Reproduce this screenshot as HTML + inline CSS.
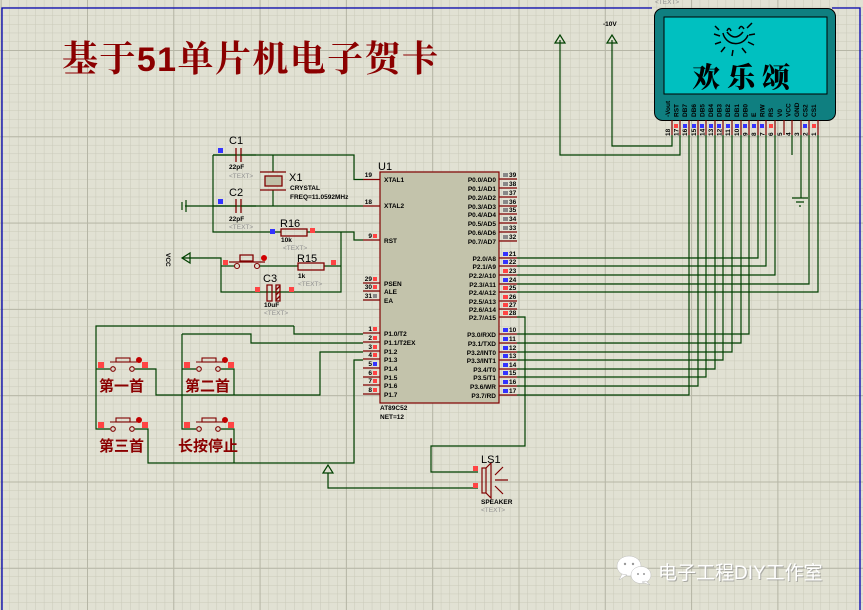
<!DOCTYPE html>
<html><head><meta charset="utf-8"><style>
html,body{margin:0;padding:0;background:#e1e1d3;}
svg{display:block;}
.s{font-family:"Liberation Sans",sans-serif;font-weight:bold;font-size:6.5px;fill:#000;}
.n{font-family:"Liberation Sans",sans-serif;font-weight:bold;font-size:6.5px;fill:#000;}
.g{font-family:"Liberation Sans",sans-serif;font-size:6.5px;fill:#909090;}
.l{font-family:"Liberation Sans",sans-serif;font-size:11px;fill:#000;}
.cn{font-family:"Liberation Sans","Noto Sans CJK SC",sans-serif;font-weight:bold;font-size:15px;fill:#8b0000;}
</style></head><body>
<svg width="863" height="610" viewBox="0 0 863 610" xmlns="http://www.w3.org/2000/svg">
<defs>
<pattern id="mi" x="0.7" y="6.85" width="8.63" height="8.63" patternUnits="userSpaceOnUse">
<path d="M0 0H8.63M0 0V8.63" stroke="#c9c9b9" stroke-width="1" fill="none"/></pattern>
<pattern id="ma" x="0.7" y="50" width="86.3" height="86.3" patternUnits="userSpaceOnUse">
<path d="M0 0H86.3M0 0V86.3" stroke="#b6b6a6" stroke-width="2" fill="none"/></pattern>
</defs>
<rect width="863" height="610" fill="#e1e1d3"/>
<rect width="863" height="610" fill="url(#mi)"/>
<rect width="863" height="610" fill="url(#ma)"/>
<path d="M2 610V8H652M832 8H860V610" stroke="#0000b0" stroke-width="1.3" fill="none"/>
<text x="655" y="4" class="g">&lt;TEXT&gt;</text>

<text x="62" y="71" font-family="'Liberation Serif','Noto Serif CJK SC',serif" font-weight="bold" font-size="36" fill="#8b0000" textLength="376" lengthAdjust="spacing">基于<tspan font-family="'Liberation Sans',sans-serif" font-size="34">51</tspan>单片机电子贺卡</text>

<g stroke="#004000" stroke-width="1.2" fill="none">
<path d="M213 155H354V179.5H363"/>
<path d="M185 206H363"/>
<path d="M213 155V232H281"/>
<path d="M307 232H354V240H363"/>
<path d="M341 232V292H221V258H182"/>
<path d="M221 266H234"/>
<path d="M260 266H298M324 266H341"/>
<path d="M273 155V172M273 190V206"/>
<path d="M294 326H96V429H110"/>
<path d="M96 369H110"/>
<path d="M294 326V334H363"/>
<path d="M182 334H251V343H363"/>
<path d="M182 334V429H196M182 369H196"/>
<path d="M135 369H156V395H320V352H363"/>
<path d="M221 369H234V395"/>
<path d="M135 429H148V463H354V360H363"/>
<path d="M221 429H234V463"/>
<path d="M517 317H525V446H431V472H478"/>
<path d="M478 488H328V473"/>
<path d="M517 258H758V135M517 266H766V135M517 275H775V135M517 284H809V135M517 292H818V135"/>
<path d="M517 334H749V135M517 343H741V135M517 352H732V135M517 360H723V135M517 369H715V135M517 377H706V135M517 386H698V135M517 395H689V135"/>
<path d="M672 135V146H612V40"/>
<path d="M680 135V155H560V40"/>
<path d="M792 135V155"/>
<path d="M801 135V198"/>
<path d="M792 198H808M796 202H804M799 206H801"/>
<path d="M186 200V212M182 202V210"/>
</g>
<g stroke="#004000" stroke-width="1.2" fill="none">
<path d="M555 43L560 35L565 43Z"/>
<path d="M607 43L612 35L617 43Z"/>
<path d="M323 473L328 465L333 473Z"/>
<path d="M182 258L190 253V263Z"/>
</g>
<text x="603" y="26" class="s">-10V</text>
<text transform="translate(166,253) rotate(90)" class="s">VCC</text>

<g stroke="#800000" stroke-width="1.3" fill="none">
<path d="M236 148V162M241 148V162M236 199V213M241 199V213"/>
<path d="M213 155H236M241 155H256M213 206H236M241 206H256" stroke="#004000"/>
<rect x="265" y="176" width="17" height="10" fill="#c0c0a8"/>
<path d="M260 172H286M260 190H286"/>
<rect x="281" y="229" width="26" height="7"/>
<rect x="298" y="263" width="26" height="7"/>
<path d="M267 285H272V301H267Z"/>
<path d="M276 285H280V301H276Z"/>
<path d="M276 290L280 286M276 295L280 291M276 300L280 296"/>
<path d="M240 255H253V261H240Z M229 262H265"/>
</g>
<g fill="none" stroke="#800000" stroke-width="1.1">
<circle cx="237" cy="266" r="2.5"/><circle cx="257" cy="266" r="2.5"/>
<path d="M256 292H267M280 292H290" stroke="#004000"/>
</g>
<circle cx="264" cy="258" r="3" fill="#d00000"/>
<g fill="#3333ff"><rect x="218" y="148" width="5" height="5"/><rect x="218" y="199" width="5" height="5"/><rect x="270" y="229" width="5" height="5"/></g>
<g fill="#ff4444"><rect x="223" y="260" width="5" height="5"/><rect x="331" y="260" width="5" height="5"/><rect x="310" y="228" width="5" height="5"/><rect x="255" y="287" width="5" height="5"/><rect x="289" y="287" width="5" height="5"/></g>
<text x="229" y="144" class="l">C1</text>
<text x="229" y="196" class="l">C2</text>
<text x="229" y="169" class="s" font-size="6">22pF</text>
<text x="229" y="178" class="g">&lt;TEXT&gt;</text>
<text x="229" y="221" class="s" font-size="6">22pF</text>
<text x="229" y="229" class="g">&lt;TEXT&gt;</text>
<text x="289" y="181" class="l">X1</text>
<text x="290" y="190" class="s" font-size="6">CRYSTAL</text>
<text x="290" y="199" class="s" font-size="6">FREQ=11.0592MHz</text>
<text x="280" y="227" class="l">R16</text>
<text x="281" y="242" class="s" font-size="6">10k</text>
<text x="283" y="250" class="g">&lt;TEXT&gt;</text>
<text x="297" y="262" class="l">R15</text>
<text x="298" y="278" class="s" font-size="6">1k</text>
<text x="298" y="286" class="g">&lt;TEXT&gt;</text>
<text x="263" y="282" class="l">C3</text>
<text x="264" y="307" class="s" font-size="6">10uF</text>
<text x="264" y="315" class="g">&lt;TEXT&gt;</text>

<g id="pb">
<g fill="none" stroke="#800000" stroke-width="1.1">
<circle cx="113" cy="369" r="2.3"/><circle cx="132" cy="369" r="2.3"/>
<rect x="116" y="358" width="14" height="4"/><path d="M110 362H137"/>
</g>
<circle cx="139" cy="360" r="3" fill="#c00000"/>
<rect x="98" y="362" width="6" height="6" fill="#ff4444"/><rect x="142" y="362" width="6" height="6" fill="#ff4444"/>
</g>
<use href="#pb" x="86"/>
<use href="#pb" y="60"/>
<use href="#pb" x="86" y="60"/>
<text x="99" y="391" class="cn">第一首</text>
<text x="185" y="391" class="cn">第二首</text>
<text x="99" y="451" class="cn">第三首</text>
<text x="178" y="451" class="cn">长按停止</text>

<text x="378" y="170" class="l">U1</text>
<rect x="380" y="172" width="119" height="231" fill="#c3c3ab" stroke="#800000" stroke-width="1.2"/>
<g stroke="#800000" stroke-width="1.2">
<path d="M363 179.5H380M363 206H380M363 240H380M363 283H380M363 291H380M363 300H380M363 333H380M363 342H380M363 351H380M363 359H380M363 368H380M363 377H380M363 385H380M363 394H380"/>
<path d="M499 179H517M499 188H517M499 197H517M499 206H517M499 214H517M499 223H517M499 232H517M499 241H517M499 258H517M499 266H517M499 275H517M499 284H517M499 292H517M499 301H517M499 309H517M499 317H517M499 334H517M499 343H517M499 352H517M499 360H517M499 369H517M499 377H517M499 386H517M499 395H517"/>
</g>
<g class="s">
<text x="384" y="182">XTAL1</text><text x="384" y="208">XTAL2</text><text x="384" y="243">RST</text>
<text x="384" y="286">PSEN</text><text x="384" y="294">ALE</text><text x="384" y="303">EA</text>
<text x="384" y="336">P1.0/T2</text><text x="384" y="345">P1.1/T2EX</text><text x="384" y="354">P1.2</text><text x="384" y="362">P1.3</text>
<text x="384" y="371">P1.4</text><text x="384" y="380">P1.5</text><text x="384" y="388">P1.6</text><text x="384" y="397">P1.7</text>
</g>
<g class="s" text-anchor="end">
<text x="496" y="182">P0.0/AD0</text><text x="496" y="191">P0.1/AD1</text><text x="496" y="200">P0.2/AD2</text><text x="496" y="209">P0.3/AD3</text>
<text x="496" y="217">P0.4/AD4</text><text x="496" y="226">P0.5/AD5</text><text x="496" y="235">P0.6/AD6</text><text x="496" y="244">P0.7/AD7</text>
<text x="496" y="261">P2.0/A8</text><text x="496" y="269">P2.1/A9</text><text x="496" y="278">P2.2/A10</text><text x="496" y="287">P2.3/A11</text>
<text x="496" y="295">P2.4/A12</text><text x="496" y="304">P2.5/A13</text><text x="496" y="312">P2.6/A14</text><text x="496" y="320">P2.7/A15</text>
<text x="496" y="337">P3.0/RXD</text><text x="496" y="346">P3.1/TXD</text><text x="496" y="355">P3.2/INT0</text><text x="496" y="363">P3.3/INT1</text>
<text x="496" y="372">P3.4/T0</text><text x="496" y="380">P3.5/T1</text><text x="496" y="389">P3.6/WR</text><text x="496" y="398">P3.7/RD</text>
</g>
<g class="n" text-anchor="end">
<text x="372" y="177">19</text><text x="372" y="204">18</text><text x="372" y="238">9</text><text x="372" y="281">29</text><text x="372" y="289">30</text><text x="372" y="298">31</text>
<text x="372" y="331">1</text><text x="372" y="340">2</text><text x="372" y="349">3</text><text x="372" y="357">4</text><text x="372" y="366">5</text><text x="372" y="375">6</text><text x="372" y="383">7</text><text x="372" y="392">8</text>
</g>
<g fill="#ff4444"><rect x="373" y="234" width="4" height="4"/><rect x="373" y="277" width="4" height="4"/><rect x="373" y="285" width="4" height="4"/>
<rect x="373" y="327" width="4" height="4"/><rect x="373" y="336" width="4" height="4"/><rect x="373" y="345" width="4" height="4"/><rect x="373" y="353" width="4" height="4"/><rect x="373" y="371" width="4" height="4"/><rect x="373" y="379" width="4" height="4"/><rect x="373" y="388" width="4" height="4"/></g>
<rect x="373" y="362" width="4" height="4" fill="#3333ff"/><rect x="373" y="294" width="4" height="4" fill="#888"/>
<g fill="#888"><rect x="503" y="173" width="5" height="4"/><rect x="503" y="182" width="5" height="4"/><rect x="503" y="191" width="5" height="4"/><rect x="503" y="200" width="5" height="4"/><rect x="503" y="208" width="5" height="4"/><rect x="503" y="217" width="5" height="4"/><rect x="503" y="226" width="5" height="4"/><rect x="503" y="235" width="5" height="4"/></g>
<g fill="#3333ff"><rect x="503" y="252" width="5" height="4"/><rect x="503" y="260" width="5" height="4"/><rect x="503" y="278" width="5" height="4"/>
<rect x="503" y="328" width="5" height="4"/><rect x="503" y="337" width="5" height="4"/><rect x="503" y="346" width="5" height="4"/><rect x="503" y="354" width="5" height="4"/><rect x="503" y="363" width="5" height="4"/><rect x="503" y="371" width="5" height="4"/><rect x="503" y="380" width="5" height="4"/><rect x="503" y="389" width="5" height="4"/></g>
<g fill="#ff4444"><rect x="503" y="269" width="5" height="4"/><rect x="503" y="286" width="5" height="4"/><rect x="503" y="295" width="5" height="4"/><rect x="503" y="303" width="5" height="4"/><rect x="503" y="311" width="5" height="4"/></g>
<g class="n">
<text x="509" y="177">39</text><text x="509" y="186">38</text><text x="509" y="195">37</text><text x="509" y="204">36</text><text x="509" y="212">35</text><text x="509" y="221">34</text><text x="509" y="230">33</text><text x="509" y="239">32</text>
<text x="509" y="256">21</text><text x="509" y="264">22</text><text x="509" y="273">23</text><text x="509" y="282">24</text><text x="509" y="290">25</text><text x="509" y="299">26</text><text x="509" y="307">27</text><text x="509" y="315">28</text>
<text x="509" y="332">10</text><text x="509" y="341">11</text><text x="509" y="350">12</text><text x="509" y="358">13</text><text x="509" y="367">14</text><text x="509" y="375">15</text><text x="509" y="384">16</text><text x="509" y="393">17</text>
</g>
<text x="380" y="410" class="s">AT89C52</text>
<text x="380" y="419" class="s">NET=12</text>

<rect x="473" y="466" width="5" height="5" fill="#ff4444"/><rect x="473" y="483" width="5" height="5" fill="#ff4444"/>
<g stroke="#800000" stroke-width="1.2" fill="none">
<rect x="482" y="468" width="4" height="25"/>
<path d="M486 468L491 463V498L486 493"/>
<path d="M495 475L503 467M495 480H508M495 486L503 494"/>
</g>
<text x="481" y="463" class="l">LS1</text>
<text x="481" y="504" class="s">SPEAKER</text>
<text x="481" y="512" class="g">&lt;TEXT&gt;</text>

<rect x="654.5" y="8.5" width="181" height="112" rx="8" fill="#0f7f80" stroke="#000" stroke-width="1"/>
<rect x="664" y="17" width="163" height="77" fill="#00c0c0" stroke="#000" stroke-width="1"/>
<g stroke="#000" stroke-width="1.5" fill="none">
<path d="M723 33A13 13 0 0 0 748 35"/>
<path d="M727 32Q735 42 743 32"/>
<path d="M727 31Q729 26 731 31M739 29Q741 24 744 29"/>
<path d="M720 36L714 34M721 42L715 44M725 47L721 52M733 50L732 56M742 48L746 53M748 42L754 45M749 35L755 34M747 28L752 23M719 30L715 26"/>
</g>
<text x="692" y="87" font-family="'Noto Serif CJK SC',serif" font-weight="900" font-size="28" fill="#000" textLength="98" lengthAdjust="spacing">欢乐颂</text>
<g stroke="#800000" stroke-width="1.2">
<path d="M672 120V135M680 120V135M689 120V135M698 120V135M706 120V135M715 120V135M723 120V135M732 120V135M741 120V135M749 120V135M758 120V135M766 120V135M775 120V135M784 120V135M792 120V135M801 120V135M809 120V135M818 120V135"/>
</g>
<g fill="#3333ff"><rect x="683" y="124" width="4" height="4"/><rect x="692" y="124" width="4" height="4"/><rect x="700" y="124" width="4" height="4"/><rect x="709" y="124" width="4" height="4"/><rect x="717" y="124" width="4" height="4"/><rect x="726" y="124" width="4" height="4"/><rect x="735" y="124" width="4" height="4"/><rect x="743" y="124" width="4" height="4"/><rect x="752" y="124" width="4" height="4"/><rect x="760" y="124" width="4" height="4"/><rect x="803" y="124" width="4" height="4"/></g>
<g fill="#ff4444"><rect x="674" y="124" width="4" height="4"/><rect x="769" y="124" width="4" height="4"/><rect x="812" y="124" width="4" height="4"/></g>
<g class="s" font-size="6" fill="#000">
<text transform="translate(670,117) rotate(-90)">-Vout</text><text transform="translate(678.5,117) rotate(-90)">RST</text>
<text transform="translate(687,117) rotate(-90)">DB7</text><text transform="translate(696,117) rotate(-90)">DB6</text>
<text transform="translate(704.5,117) rotate(-90)">DB5</text><text transform="translate(713,117) rotate(-90)">DB4</text>
<text transform="translate(721.5,117) rotate(-90)">DB3</text><text transform="translate(730,117) rotate(-90)">DB2</text>
<text transform="translate(739,117) rotate(-90)">DB1</text><text transform="translate(747.5,117) rotate(-90)">DB0</text>
<text transform="translate(756,117) rotate(-90)">E</text><text transform="translate(764.5,117) rotate(-90)">R/W</text>
<text transform="translate(773,117) rotate(-90)">RS</text><text transform="translate(782,117) rotate(-90)">V0</text>
<text transform="translate(790.5,117) rotate(-90)">VCC</text><text transform="translate(799,117) rotate(-90)">GND</text>
<text transform="translate(807.5,117) rotate(-90)">CS2</text><text transform="translate(816,117) rotate(-90)">CS1</text>
<text transform="translate(670,136) rotate(-90)">18</text><text transform="translate(678.5,136) rotate(-90)">17</text>
<text transform="translate(687,136) rotate(-90)">16</text><text transform="translate(696,136) rotate(-90)">15</text>
<text transform="translate(704.5,136) rotate(-90)">14</text><text transform="translate(713,136) rotate(-90)">13</text>
<text transform="translate(721.5,136) rotate(-90)">12</text><text transform="translate(730,136) rotate(-90)">11</text>
<text transform="translate(739,136) rotate(-90)">10</text><text transform="translate(747.5,136) rotate(-90)">9</text>
<text transform="translate(756,136) rotate(-90)">8</text><text transform="translate(764.5,136) rotate(-90)">7</text>
<text transform="translate(773,136) rotate(-90)">6</text><text transform="translate(782,136) rotate(-90)">5</text>
<text transform="translate(790.5,136) rotate(-90)">4</text><text transform="translate(799,136) rotate(-90)">3</text>
<text transform="translate(807.5,136) rotate(-90)">2</text><text transform="translate(816,136) rotate(-90)">1</text>
</g>

<g fill="#ffffff" stroke="#bbbbbb" stroke-width="0.5">
<ellipse cx="629" cy="566" rx="12" ry="10"/>
<path d="M622 574L619 580L627 575Z"/>
<ellipse cx="641" cy="575" rx="10" ry="8.5"/>
<path d="M646 581L650 585L642 582Z"/>
</g>
<g fill="#999"><circle cx="625" cy="564" r="1.2"/><circle cx="633" cy="564" r="1.2"/><circle cx="638" cy="574" r="1"/><circle cx="644" cy="574" r="1"/></g>
<text x="659" y="580" font-family="'Liberation Sans','Noto Sans CJK SC',sans-serif" font-size="19" fill="#888" opacity="0.6">电子工程DIY工作室</text>
<text x="658" y="579" font-family="'Liberation Sans','Noto Sans CJK SC',sans-serif" font-size="19" fill="#ffffff">电子工程DIY工作室</text>
</svg>
</body></html>
